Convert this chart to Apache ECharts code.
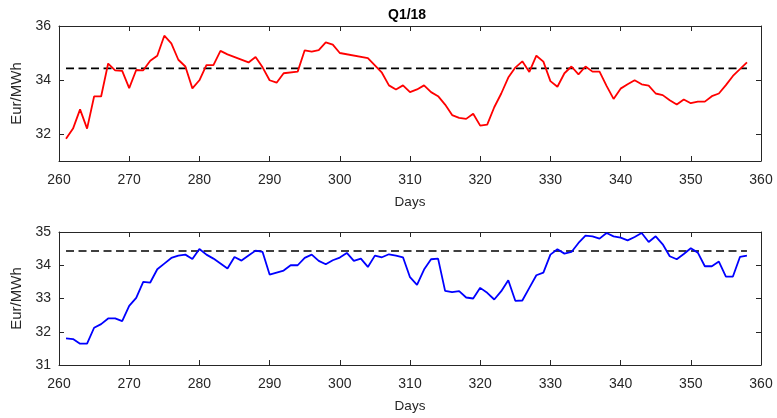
<!DOCTYPE html>
<html>
<head>
<meta charset="utf-8">
<title>Q1/18</title>
<script src="https://cdn.jsdelivr.net/npm/echarts@6/dist/echarts.min.js"></script>
<style>
  html, body { margin: 0; padding: 0; background: #fff; }
  #main { width: 777px; height: 418px; }
</style>
</head>
<body>
<div id="main"></div>
<script>
// top panel (red) - [day, Eur/MWh]
var redDays = [261, 262, 263, 264, 265, 266, 267, 268, 269, 270, 271, 272, 273, 274, 275, 276, 277, 278, 279, 280,
  281, 282, 283, 284, 287, 288, 289, 290, 291, 292, 294, 295, 296, 297, 298, 299, 300, 304, 306, 307,
  308, 309, 310, 311, 312, 313, 314, 315, 316, 317, 318, 319, 320, 321, 322, 323, 324, 325, 326, 327,
  328, 329, 330, 331, 332, 333, 334, 335, 336, 337, 338, 339, 340, 341, 342, 343, 344, 345, 346, 347,
  348, 349, 350, 351, 352, 353, 354, 355, 356, 357, 358];
var redPrices = [31.82, 32.20, 32.91, 32.20, 33.39, 33.39, 34.61, 34.36, 34.34, 33.70, 34.37, 34.36, 34.71, 34.90, 35.64, 35.36, 34.75, 34.50, 33.69, 33.99,
  34.55, 34.55, 35.08, 34.95, 34.65, 34.85, 34.47, 33.99, 33.90, 34.25, 34.31, 35.10, 35.05, 35.11, 35.39, 35.31, 35.00, 34.81, 34.27, 33.80,
  33.65, 33.80, 33.55, 33.65, 33.80, 33.55, 33.40, 33.09, 32.70, 32.60, 32.56, 32.75, 32.31, 32.35, 32.99, 33.50, 34.09, 34.46, 34.69, 34.30,
  34.90, 34.68, 33.96, 33.75, 34.25, 34.50, 34.21, 34.50, 34.31, 34.31, 33.78, 33.30, 33.68, 33.84, 33.99, 33.84, 33.79, 33.50, 33.44, 33.25,
  33.09, 33.28, 33.14, 33.20, 33.20, 33.40, 33.50, 33.81, 34.15, 34.40, 34.65];

// bottom panel (blue)
var blueDays = [261, 262, 263, 264, 265, 266, 267, 268, 269, 270, 271, 272, 273, 274, 275, 276, 277, 278, 279, 280,
  281, 282, 284, 285, 286, 287, 288, 289, 290, 292, 293, 294, 295, 296, 297, 298, 299, 300, 301, 302,
  303, 304, 305, 306, 307, 308, 309, 310, 311, 312, 313, 314, 315, 316, 317, 318, 319, 320, 321, 322,
  323, 324, 325, 326, 327, 328, 329, 330, 331, 332, 333, 334, 335, 336, 337, 338, 339, 340, 341, 342,
  343, 344, 345, 346, 347, 348, 349, 350, 351, 352, 353, 354, 355, 356, 357, 358];
var bluePrices = [31.80, 31.78, 31.64, 31.64, 32.12, 32.23, 32.40, 32.40, 32.32, 32.78, 33.02, 33.50, 33.48, 33.88, 34.05, 34.22, 34.29, 34.32, 34.19, 34.49,
  34.32, 34.20, 33.90, 34.25, 34.14, 34.29, 34.44, 34.40, 33.72, 33.84, 34.00, 34.00, 34.22, 34.32, 34.13, 34.03, 34.15, 34.23, 34.37, 34.13,
  34.20, 33.95, 34.29, 34.24, 34.33, 34.29, 34.24, 33.64, 33.41, 33.87, 34.18, 34.20, 33.23, 33.19, 33.22, 33.03, 33.00, 33.32, 33.17, 32.97,
  33.22, 33.55, 32.93, 32.94, 33.32, 33.70, 33.78, 34.32, 34.48, 34.35, 34.40, 34.67, 34.89, 34.87, 34.80, 34.97, 34.87, 34.83, 34.75, 34.85,
  34.97, 34.70, 34.87, 34.63, 34.27, 34.18, 34.34, 34.51, 34.38, 33.97, 33.97, 34.11, 33.66, 33.66, 34.25, 34.29];

// dashed reference level, same in both panels
var refLevel = 34.43;
var refDays = [261, 358];

var xTicks = [260, 270, 280, 290, 300, 310, 320, 330, 340, 350, 360];
var topYTicks = [32, 34, 36];
var botYTicks = [31, 32, 33, 34, 35];

function pairs(xs, ys) {
  return xs.map(function (d, i) { return [d, ys[i]]; });
}

var font = 'Liberation Sans, Helvetica, Arial, sans-serif';
var axCol = '#262626';
var txtCol = '#262626';

function xAx(grid, pos, showLabel) {
  return {
    type: 'value', gridIndex: grid, position: pos,
    min: 260, max: 360, interval: 10,
    name: showLabel ? 'Days' : '', nameLocation: 'middle', nameGap: 34,
    nameTextStyle: { color: txtCol, fontSize: 13.5, fontFamily: font },
    splitLine: { show: false },
    axisLine: { show: true, onZero: false, lineStyle: { color: axCol, width: 1 } },
    axisTick: { show: true, inside: true, length: 5, customValues: xTicks, lineStyle: { color: axCol } },
    axisLabel: { show: showLabel, customValues: xTicks, color: txtCol, fontSize: 14, fontFamily: font, margin: 12 }
  };
}

function yAx(grid, pos, min, max, ticks, showLabel) {
  return {
    type: 'value', gridIndex: grid, position: pos,
    min: min, max: max,
    name: showLabel ? 'Eur/MWh' : '', nameLocation: 'middle', nameGap: 35,
    nameTextStyle: { color: txtCol, fontSize: 15, fontFamily: font },
    splitLine: { show: false },
    axisLine: { show: true, onZero: false, lineStyle: { color: axCol, width: 1 } },
    axisTick: { show: true, inside: true, length: 5, customValues: ticks, lineStyle: { color: axCol } },
    axisLabel: { show: showLabel, customValues: ticks, color: txtCol, fontSize: 14, fontFamily: font, margin: 8 }
  };
}

var chart = echarts.init(document.getElementById('main'), null, { renderer: 'canvas' });

chart.setOption({
  animation: false,
  backgroundColor: '#fff',
  title: {
    text: 'Q1/18', left: 388, top: 8, padding: 0,
    textStyle: { color: '#000', fontSize: 14, fontWeight: 'bold', fontFamily: font }
  },
  grid: [
    { left: 59, right: 16, top: 26, height: 135 },
    { left: 59, right: 16, top: 232, height: 133 }
  ],
  xAxis: [
    xAx(0, 'bottom', true), xAx(0, 'top', false),
    xAx(1, 'bottom', true), xAx(1, 'top', false)
  ],
  yAxis: [
    yAx(0, 'left', 31, 36, topYTicks, true), yAx(0, 'right', 31, 36, topYTicks, false),
    yAx(1, 'left', 31, 35, botYTicks, true), yAx(1, 'right', 31, 35, botYTicks, false)
  ],
  series: [
    {
      type: 'line', xAxisIndex: 0, yAxisIndex: 0, data: pairs(refDays, [refLevel, refLevel]),
      symbol: 'none', lineStyle: { color: '#000', width: 1.6, type: [8, 4.5] }
    },
    {
      type: 'line', xAxisIndex: 0, yAxisIndex: 0, data: pairs(redDays, redPrices),
      symbol: 'none', lineStyle: { color: '#ff0000', width: 1.8 }
    },
    {
      type: 'line', xAxisIndex: 2, yAxisIndex: 2, data: pairs(refDays, [refLevel, refLevel]),
      symbol: 'none', lineStyle: { color: '#000', width: 1.6, type: [8, 4.5] }
    },
    {
      type: 'line', xAxisIndex: 2, yAxisIndex: 2, data: pairs(blueDays, bluePrices),
      symbol: 'none', lineStyle: { color: '#0000ff', width: 1.8 }
    }
  ]
});

window.onresize = chart.resize;
</script>
</body>
</html>
